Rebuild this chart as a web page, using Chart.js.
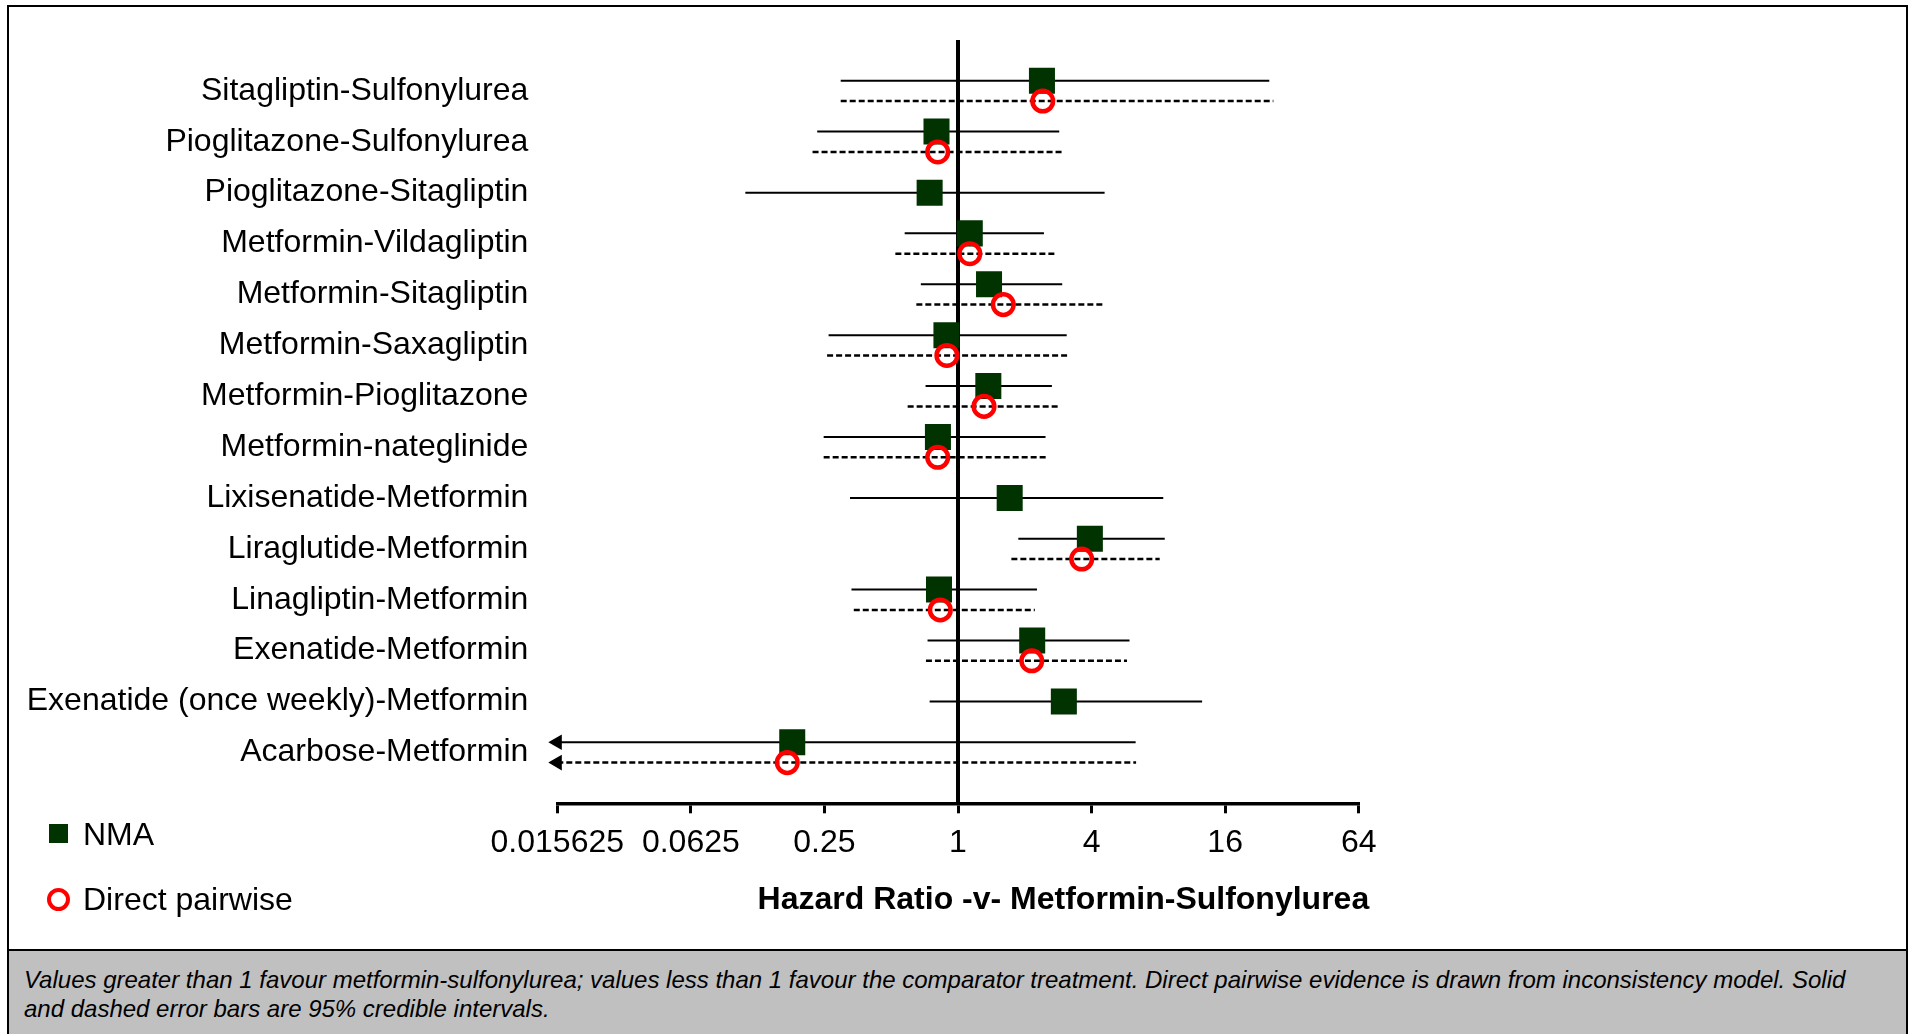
<!DOCTYPE html>
<html>
<head>
<meta charset="utf-8">
<script src="https://cdn.jsdelivr.net/npm/chart.js@4.4.1/dist/chart.umd.min.js"></script>
<style>
html,body{margin:0;padding:0;background:#fff;width:1913px;height:1034px;overflow:hidden;font-family:'Liberation Sans',Arial,sans-serif;}
#wrap{position:absolute;left:0;top:0;width:1913px;height:1034px;}
#footer{position:absolute;left:7px;top:949px;width:1901px;height:100px;box-sizing:border-box;border-top:2px solid #000;background:#c0c0c0;padding:14px 0 0 17px;font-style:italic;font-size:24px;line-height:29px;color:#000;white-space:nowrap;}
#frame{position:absolute;left:7px;top:5px;width:1901px;height:1045px;box-sizing:border-box;border:2.5px solid #000;pointer-events:none;z-index:5;}
.leg{position:absolute;font-size:32px;line-height:38px;color:#000;white-space:nowrap;}
#legSq{position:absolute;left:49px;top:824px;width:19px;height:19px;background:#003300;}
#legCi{position:absolute;left:47px;top:887.5px;width:23px;height:23px;box-sizing:border-box;border:4.5px solid #ff0000;border-radius:50%;}
</style>
</head>
<body>
<div id="wrap"><canvas id="c"></canvas></div>
<div id="legSq"></div>
<div class="leg" style="left:83px;top:815px;">NMA</div>
<div id="legCi"></div>
<div class="leg" style="left:83px;top:880px;">Direct pairwise</div>
<div id="footer">Values greater than 1 favour metformin-sulfonylurea; values less than 1 favour the comparator treatment. Direct pairwise evidence is drawn from inconsistency model. Solid<br>and dashed error bars are 95% credible intervals.</div>
<div id="frame"></div>
<script>
// ---- data ----
const categories = [
  "Sitagliptin-Sulfonylurea",
  "Pioglitazone-Sulfonylurea",
  "Pioglitazone-Sitagliptin",
  "Metformin-Vildagliptin",
  "Metformin-Sitagliptin",
  "Metformin-Saxagliptin",
  "Metformin-Pioglitazone",
  "Metformin-nateglinide",
  "Lixisenatide-Metformin",
  "Liraglutide-Metformin",
  "Linagliptin-Metformin",
  "Exenatide-Metformin",
  "Exenatide (once weekly)-Metformin",
  "Acarbose-Metformin"
];
// NMA hazard ratios and 95% CrI (lower bound of Acarbose is off scale, < 0.015625)
const nmaEst = [2.39, 0.80, 0.745, 1.13, 1.38, 0.887, 1.37, 0.812, 1.71, 3.93, 0.821, 2.16, 3.00, 0.179];
const nmaLo  = [0.296, 0.232, 0.110, 0.575, 0.680, 0.261, 0.714, 0.248, 0.326, 1.87, 0.331, 0.729, 0.745, 0.01];
const nmaHi  = [25.3, 2.86, 4.58, 2.44, 2.95, 3.09, 2.65, 2.48, 8.42, 8.55, 2.27, 5.93, 12.6, 6.32];
// Direct pairwise estimates (null = no direct evidence)
const dirEst = [2.41, 0.81, null, 1.13, 1.60, 0.891, 1.31, 0.81, null, 3.61, 0.832, 2.15, null, 0.170];
const dirLo  = [0.296, 0.221, null, 0.522, 0.649, 0.257, 0.593, 0.248, null, 1.74, 0.339, 0.717, null, 0.01];
const dirHi  = [26.4, 2.95, null, 2.77, 4.55, 3.18, 2.84, 2.50, null, 8.11, 2.22, 5.78, null, 6.35];
const xTickValues = [0.015625, 0.0625, 0.25, 1, 4, 16, 64];
const xTickLabels = ["0.015625", "0.0625", "0.25", "1", "4", "16", "64"];
const refValue = 1;
const axisTitle = "Hazard Ratio -v- Metformin-Sulfonylurea";

// ---- build ----
const FONT = "'Liberation Sans', Arial, sans-serif";
Chart.defaults.font.family = FONT;
Chart.defaults.color = '#000';
const X_MIN = xTickValues[0], X_MAX = xTickValues[xTickValues.length - 1];
const OFF = 0.2;
function rowY(i, kind) {
  if (dirEst[i] === null) return i;
  return kind === 'nma' ? i - OFF : i + OFF;
}
function intervals(lo, hi, est, kind) {
  const out = [];
  est.forEach((e, i) => {
    if (e === null) return;
    const y = rowY(i, kind);
    out.push({x: Math.max(lo[i], X_MIN), y}, {x: Math.min(hi[i], X_MAX), y}, {x: null, y: null});
  });
  return out;
}
function pts(est, kind) {
  const out = [];
  est.forEach((e, i) => { if (e !== null) out.push({x: e, y: rowY(i, kind)}); });
  return out;
}
function arrows() {
  const out = [];
  nmaLo.forEach((v, i) => { if (v < X_MIN) out.push({x: X_MIN, y: rowY(i, 'nma')}); });
  dirLo.forEach((v, i) => { if (v !== null && v < X_MIN) out.push({x: X_MIN, y: rowY(i, 'dir')}); });
  return out;
}
function zeroPad(s) { s.paddingTop = 0; s.paddingBottom = 0; s.paddingLeft = 0; s.paddingRight = 0; }

// x-axis title, right-aligned slightly past the last tick (as in the original)
const axisTitlePlugin = {
  id: 'axisTitle',
  afterDraw(chart) {
    const s = chart.scales.x, ctx = chart.ctx;
    ctx.save();
    ctx.font = "bold 32px " + FONT;
    ctx.fillStyle = '#000';
    ctx.textAlign = 'right';
    ctx.textBaseline = 'middle';
    ctx.fillText(axisTitle, s.right + 10.5, s.bottom - 19.2);
    ctx.restore();
  }
};

new Chart(document.getElementById('c'), {
  type: 'scatter',
  data: {
    datasets: [
      { label: 'Direct pairwise', data: pts(dirEst, 'dir'), order: 0, pointStyle: 'circle',
        pointRadius: 10.3, pointHoverRadius: 10.3, borderWidth: 4.5, borderColor: '#ff0000',
        backgroundColor: 'rgba(0,0,0,0)' },
      { label: 'NMA', data: pts(nmaEst, 'nma'), order: 1, pointStyle: 'rect',
        pointRadius: 18.4, pointHoverRadius: 18.4, borderWidth: 0, backgroundColor: '#003300' },
      { label: 'arrows', data: arrows(), order: 2, pointStyle: 'triangle', rotation: -90,
        pointRadius: 9, borderWidth: 0, backgroundColor: '#000', clip: false },
      { label: 'ref', data: [{x: refValue, y: -1}, {x: refValue, y: 14}], order: 3, showLine: true,
        pointRadius: 0, borderColor: '#000', borderWidth: 4 },
      { label: 'direct CrI', data: intervals(dirLo, dirHi, dirEst, 'dir'), order: 4, showLine: true,
        pointRadius: 0, borderColor: '#000', borderWidth: 2.5, borderDash: [6, 3], spanGaps: false },
      { label: 'NMA CrI', data: intervals(nmaLo, nmaHi, nmaEst, 'nma'), order: 5, showLine: true,
        pointRadius: 0, borderColor: '#000', borderWidth: 2, spanGaps: false }
    ]
  },
  plugins: [axisTitlePlugin],
  options: {
    responsive: true,
    maintainAspectRatio: false,
    animation: false,
    events: [],
    layout: { autoPadding: false, padding: { left: 0, top: 40, right: 554.3, bottom: 114.8 } },
    plugins: { legend: { display: false }, tooltip: { enabled: false }, title: { display: false } },
    scales: {
      x: {
        type: 'logarithmic', position: 'bottom', min: X_MIN, max: X_MAX,
        afterBuildTicks: s => { s.ticks = xTickValues.map(v => ({value: v})); },
        afterFit: s => { s.height = 115.9; zeroPad(s); },
        grid: { display: true, drawOnChartArea: false, drawTicks: true, tickLength: 10, lineWidth: 3, color: '#000' },
        border: { display: true, width: 3.5, color: '#000' },
        ticks: { padding: 11, color: '#000', autoSkip: false, maxRotation: 0, minRotation: 0,
          font: { size: 32, family: FONT, lineHeight: 1.2 },
          callback: (v, i) => xTickLabels[i] },
        title: { display: false }
      },
      y: {
        type: 'linear', min: -1, max: 14, reverse: true,
        afterBuildTicks: s => { s.ticks = categories.map((c, i) => ({value: i})); },
        afterFit: s => { s.width = 557.3; zeroPad(s); },
        grid: { display: false, drawTicks: false },
        border: { display: false },
        ticks: { padding: 29, color: '#000', autoSkip: false,
          font: { size: 32, family: FONT, lineHeight: 1.2 },
          callback: v => categories[v] }
      }
    }
  }
});
</script>
</body>
</html>
